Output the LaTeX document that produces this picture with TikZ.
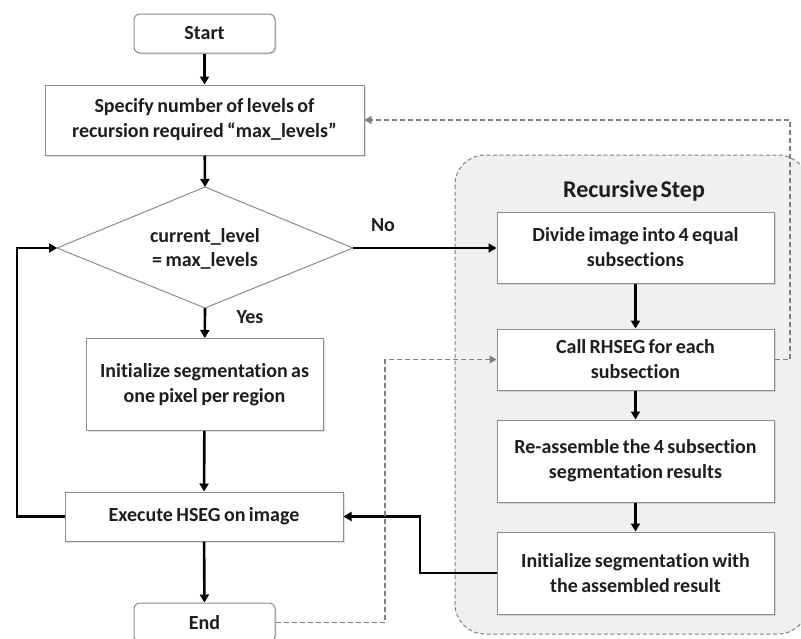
\documentclass[tikz,border=0pt]{standalone}
\usepackage{fontspec}
\setmainfont{Carlito}[Ligatures=NoCommon, WordSpace=0.75]
\usetikzlibrary{arrows.meta,shadows}
\definecolor{boxline}{HTML}{8C8C8C}
\definecolor{txt}{HTML}{1E1E1E}
\definecolor{panel}{HTML}{F0F0F0}
\definecolor{dashc}{HTML}{808080}
\tikzset{
  base/.style={draw=boxline, line width=1pt, fill=white, align=center,
    font=\bfseries\fontsize{20}{25}\selectfont, text=txt, inner sep=0pt,
    drop shadow={opacity=0.25, shadow xshift=1.5pt, shadow yshift=-1.5pt}},
  procbox/.style={base, rectangle},
  termbox/.style={base, rectangle, rounded corners=6pt},
  flow/.style={line width=2.6pt, -{Triangle[length=8pt,width=9pt]}},
  backflow/.style={draw=dashc, line width=1.4pt, dash pattern=on 5pt off 3pt,
    -{Triangle[length=7pt,width=8pt,fill=dashc]}},
  lbl/.style={font=\bfseries\fontsize{20}{22}\selectfont, text=txt}
}
\begin{document}
\begin{tikzpicture}[x=1pt,y=-1pt]
\useasboundingbox (0,0) rectangle (801,638);
\clip (0,0) rectangle (801,638);

% recursive step panel
\draw[draw=dashc, line width=1pt, dash pattern=on 4pt off 2.5pt, fill=panel,
  rounded corners=30pt] (455,155) rectangle (808,634);
\node[lbl, font=\bfseries\fontsize{24}{26}\selectfont] (title) at (634,191)
  {Recursive\hspace{0.1em}Step};

% main column
\node[termbox, minimum width=141, minimum height=39] (start) at (204.5,33.5) {Start};
\node[procbox, minimum width=319, minimum height=70] (spec) at (204.5,120)
  {Specify number of levels of\\recursion required “max\_levels”};

% decision diamond
\coordinate (decT) at (205,187);
\coordinate (decR) at (353,248);
\coordinate (decB) at (205,308);
\coordinate (decL) at (57,248);
\draw[draw=boxline, line width=1pt, fill=white] (decT) -- (decR) -- (decB) -- (decL) -- cycle;
\node[align=center, font=\bfseries\fontsize{20}{24}\selectfont, text=txt] (dec) at (205,248.5)
  {current\_level\\= max\_levels};

\node[procbox, minimum width=237, minimum height=92] (init) at (204.5,384.5)
  {Initialize segmentation as\\one pixel per region};
\node[procbox, minimum width=278, minimum height=49] (exec) at (204,516.5)
  {Execute HSEG on image};
\node[termbox, minimum width=141, minimum height=39] (end) at (204.5,622.5) {End};

% recursive column
\node[procbox, minimum width=277, minimum height=71] (div) at (635.5,247.5)
  {Divide image into 4 equal\\subsections};
\node[procbox, minimum width=277, minimum height=61] (call) at (635.5,359.5)
  {Call RHSEG for each\\subsection};
\node[procbox, minimum width=277, minimum height=82] (reas) at (635.5,461)
  {Re-assemble the 4 subsection\\segmentation results};
\node[procbox, minimum width=277, minimum height=82] (iwith) at (635.5,573)
  {Initialize segmentation with\\the assembled result};

% bends of the connectors
\coordinate (loopL) at (17,0);
\coordinate (retX) at (420,0);
\coordinate (recR) at (790,0);
\coordinate (endX) at (385,0);

% solid flow
\draw[flow] (start) -- (spec);
\draw[flow] (spec) -- (decT);
\draw[flow] (decB) -- (init);
\draw[flow] (init) -- (exec);
\draw[flow] (exec) -- (end);
\draw[flow] (exec.west) -- (exec.west -| loopL) -- (decL -| loopL) -- (decL);
\draw[flow] (decR) -- (decR -| div.west);
\draw[flow] (div) -- (call);
\draw[flow] (call) -- (reas);
\draw[flow] (reas) -- (iwith);
\draw[flow] (iwith.west) -- (iwith.west -| retX) -- (exec.east -| retX) -- (exec.east);

% dashed recursion links
\draw[backflow] (call.east) -- (call.east -| recR) -- (spec.east -| recR) -- (spec.east);
\draw[backflow] (end.east) -- (end.east -| endX) -- (call.west -| endX) -- (call.west);

% branch labels
\node[lbl] (no) at (383,225) {No};
\node[lbl] (yes) at (250,317) {Yes};
\end{tikzpicture}
\end{document}
